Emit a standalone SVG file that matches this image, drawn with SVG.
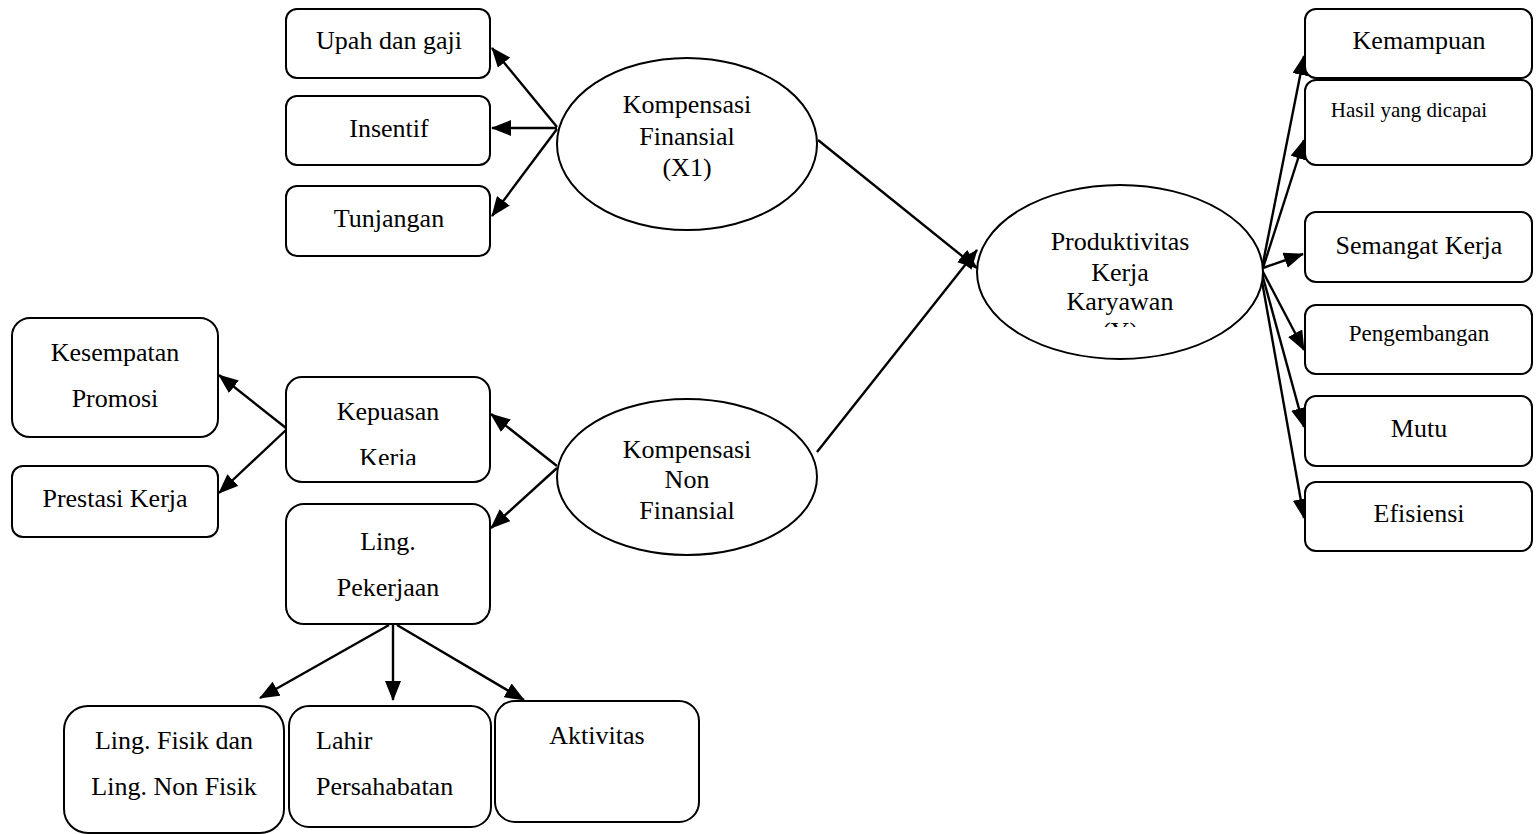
<svg xmlns="http://www.w3.org/2000/svg" width="1537" height="834" viewBox="0 0 1537 834">
<style>
.box{fill:#fff;stroke:#000;stroke-width:2}
.ell{fill:#fff;stroke:#000;stroke-width:2}
.t{font-family:"Liberation Serif","Times New Roman",serif;font-size:26px;fill:#000;text-anchor:middle}
.ts{font-size:21px}
.tm{font-size:23px}
.tl{text-anchor:start}
.c{stroke:#000;stroke-width:2.4;fill:none;marker-end:url(#ah)}
</style>
<defs>
<marker id="ah" markerUnits="userSpaceOnUse" markerWidth="20" markerHeight="16" viewBox="0 0 20 16" refX="19" refY="8" orient="auto">
<path d="M0,0 L20,8 L0,16 Z" fill="#000"/>
</marker>
<clipPath id="clipY"><rect x="1000" y="300" width="240" height="27"/></clipPath>
<clipPath id="clipK"><rect x="290" y="430" width="196" height="35"/></clipPath>
</defs>
<rect width="1537" height="834" fill="#fff"/>

<g id="connectors">
<line class="c" x1="557" y1="127" x2="492" y2="48"/>
<line class="c" x1="557" y1="128" x2="492" y2="128"/>
<line class="c" x1="557" y1="129" x2="492" y2="216"/>
<line class="c" x1="818" y1="140" x2="977" y2="268"/>
<line class="c" x1="817" y1="452" x2="977" y2="250"/>
<line class="c" x1="557" y1="466" x2="491" y2="414"/>
<line class="c" x1="557" y1="468" x2="491" y2="528"/>
<line class="c" x1="286" y1="428" x2="219" y2="375"/>
<line class="c" x1="286" y1="430" x2="219" y2="493"/>
<line class="c" x1="389" y1="625" x2="260" y2="698"/>
<line class="c" x1="393" y1="625" x2="393" y2="700"/>
<line class="c" x1="397" y1="625" x2="524" y2="700"/>
<line class="c" x1="1262" y1="268" x2="1304" y2="56"/>
<line class="c" x1="1263" y1="268" x2="1304" y2="140"/>
<line class="c" x1="1263" y1="268" x2="1303" y2="254"/>
<line class="c" x1="1262" y1="270" x2="1304" y2="350"/>
<line class="c" x1="1261" y1="270" x2="1304" y2="427"/>
<line class="c" x1="1260" y1="270" x2="1304" y2="518"/>
</g>

<g id="n-upah"><rect class="box" x="286" y="9" width="204" height="69" rx="11"/><text class="t" x="389" y="49">Upah dan gaji</text></g>
<g id="n-insentif"><rect class="box" x="286" y="96" width="204" height="69" rx="11"/><text class="t" x="389" y="137">Insentif</text></g>
<g id="n-tunjangan"><rect class="box" x="286" y="186" width="204" height="70" rx="11"/><text class="t" x="389" y="227">Tunjangan</text></g>

<g id="n-kf"><ellipse class="ell" cx="687" cy="144" rx="130" ry="86"/>
<text class="t" x="687" y="113">Kompensasi</text><text class="t" x="687" y="145">Finansial</text><text class="t" x="687" y="176">(X1)</text></g>

<g id="n-knf"><ellipse class="ell" cx="687" cy="477" rx="130" ry="78"/>
<text class="t" x="687" y="458">Kompensasi</text><text class="t" x="687" y="488">Non</text><text class="t" x="687" y="519">Finansial</text></g>

<g id="n-prod"><ellipse class="ell" cx="1120" cy="272" rx="143" ry="87"/>
<text class="t" x="1120" y="250">Produktivitas</text><text class="t" x="1120" y="281">Kerja</text><text class="t" x="1120" y="310">Karyawan</text>
<text class="t" x="1120" y="340" clip-path="url(#clipY)">(Y)</text></g>

<g id="n-kemampuan"><rect class="box" x="1305" y="9" width="227" height="69" rx="11"/><text class="t" x="1419" y="49">Kemampuan</text></g>
<g id="n-hasil"><rect class="box" x="1305" y="80" width="227" height="85" rx="11"/><text class="t ts" x="1409" y="117">Hasil yang dicapai</text></g>
<g id="n-semangat"><rect class="box" x="1305" y="212" width="227" height="70" rx="11"/><text class="t" x="1419" y="254">Semangat Kerja</text></g>
<g id="n-pengembangan"><rect class="box" x="1305" y="305" width="227" height="69" rx="11"/><text class="t tm" x="1419" y="341">Pengembangan</text></g>
<g id="n-mutu"><rect class="box" x="1305" y="396" width="227" height="70" rx="11"/><text class="t" x="1419" y="437">Mutu</text></g>
<g id="n-efisiensi"><rect class="box" x="1305" y="482" width="227" height="69" rx="11"/><text class="t" x="1419" y="522">Efisiensi</text></g>

<g id="n-kesempatan"><rect class="box" x="12" y="318" width="206" height="119" rx="18"/><text class="t" x="115" y="361">Kesempatan</text><text class="t" x="115" y="407">Promosi</text></g>
<g id="n-prestasi"><rect class="box" x="12" y="466" width="206" height="71" rx="11"/><text class="t" x="115" y="507">Prestasi Kerja</text></g>
<g id="n-kepuasan"><rect class="box" x="286" y="377" width="204" height="105" rx="16"/><text class="t" x="388" y="420">Kepuasan</text><text class="t" x="388" y="466" clip-path="url(#clipK)">Kerja</text></g>
<g id="n-ling"><rect class="box" x="286" y="504" width="204" height="120" rx="18"/><text class="t" x="388" y="550">Ling.</text><text class="t" x="388" y="596">Pekerjaan</text></g>

<g id="n-fisik"><rect class="box" x="64" y="706" width="220" height="127" rx="24"/><text class="t" x="174" y="749">Ling. Fisik dan</text><text class="t" x="174" y="795">Ling. Non Fisik</text></g>
<g id="n-lahir"><rect class="box" x="289" y="706" width="202" height="121" rx="20"/><text class="t tl" x="316" y="749">Lahir</text><text class="t tl" x="316" y="795">Persahabatan</text></g>
<g id="n-aktivitas"><rect class="box" x="495" y="701" width="204" height="121" rx="20"/><text class="t" x="597" y="744">Aktivitas</text></g>
</svg>
